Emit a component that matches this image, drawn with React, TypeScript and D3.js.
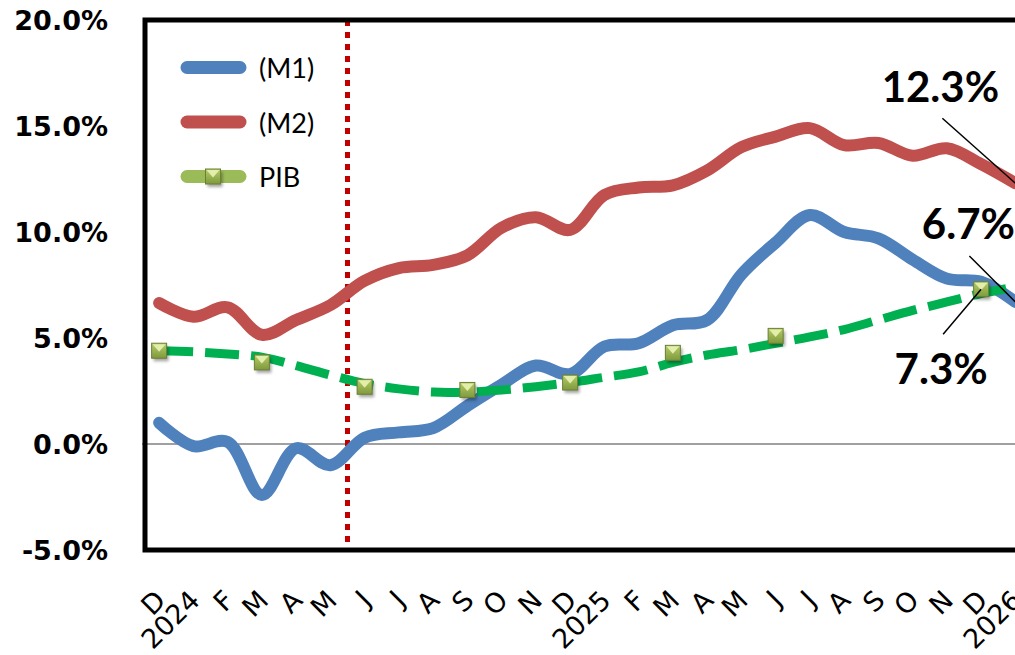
import React, { useEffect, useRef } from 'react'
import * as d3 from 'd3'

// month labels, Dec-2023 .. Jan-2026 (January shows the year)
const categories = ['D', '2024', 'F', 'M', 'A', 'M', 'J', 'J', 'A', 'S', 'O', 'N',
  'D', '2025', 'F', 'M', 'A', 'M', 'J', 'J', 'A', 'S', 'O', 'N', 'D', '2026']

// annual growth, %
const m1 = [1.0, -0.1, 0.1, -2.4, -0.2, -1.0, 0.3, 0.55, 0.75, 1.8, 2.8, 3.7,
  3.3, 4.6, 4.75, 5.6, 5.85, 8.0, 9.5, 10.8, 10.0, 9.7, 8.7, 7.8, 7.65, 6.7]
const m2 = [6.65, 6.0, 6.45, 5.15, 5.85, 6.55, 7.7, 8.3, 8.45, 8.9, 10.2, 10.7,
  10.1, 11.75, 12.1, 12.2, 12.9, 14.0, 14.5, 14.9, 14.1, 14.2, 13.6, 13.95, 13.2, 12.3]
// quarterly GDP (only quarter months have a value)
const pib: (number | null)[] = [4.4, null, null, 3.85, null, null, 2.7, null, null, 2.55, null, null,
  2.9, null, null, 4.3, null, null, 5.1, null, null, null, null, null, 7.3, null]
// smoothed GDP trend (dashed)
const pibTrend = [4.4, 4.35, 4.25, 4.1, 3.7, 3.25, 2.85, 2.6, 2.45, 2.45, 2.55, 2.7,
  2.9, 3.15, 3.4, 3.85, 4.2, 4.45, 4.75, 5.05, 5.4, 5.85, 6.3, 6.7, 7.1, 7.4]

const yTicks = [-5, 0, 5, 10, 15, 20]
const eventAfter = 5 // vertical marker between May and June 2024

const W = 1015
const H = 655

export default function App() {
  const ref = useRef<SVGSVGElement>(null)

  useEffect(() => {
    const svg = d3.select(ref.current!)
    svg.selectAll('*').remove()

    const left = 142
    const band = 34.25
    const top = 20
    const bottom = 550

    const x = d3.scaleBand<number>()
      .domain(d3.range(categories.length))
      .range([left, left + band * categories.length])
    const cx = (i: number) => x(i)! + x.bandwidth() / 2
    const y = d3.scaleLinear().domain([-5, 20]).range([bottom, top])

    const defs = svg.append('defs')
    const grad = defs.append('linearGradient').attr('id', 'mk').attr('x1', 0).attr('y1', 0).attr('x2', 0).attr('y2', 1)
    grad.append('stop').attr('offset', '0%').attr('stop-color', '#b5cc6a')
    grad.append('stop').attr('offset', '100%').attr('stop-color', '#7f9a3c')
    const blur = defs.append('filter').attr('id', 'sh').attr('x', '-50%').attr('y', '-50%').attr('width', '200%').attr('height', '200%')
    blur.append('feGaussianBlur').attr('stdDeviation', 1.5)

    const g = svg.append('g')

    // zero line
    g.append('line')
      .attr('x1', left).attr('x2', W)
      .attr('y1', y(0)).attr('y2', y(0))
      .attr('stroke', '#a0a0a0').attr('stroke-width', 2)

    // y labels
    g.selectAll('text.yt')
      .data(yTicks)
      .enter()
      .append('text')
      .attr('class', 'yt')
      .attr('x', 108)
      .attr('y', d => y(d))
      .attr('dy', '0.37em')
      .attr('text-anchor', 'end')
      .style('font', 'bold 27px "DejaVu Sans"')
      .text(d => d.toFixed(1) + '%')

    // x labels, rotated
    g.selectAll('text.xt')
      .data(categories)
      .enter()
      .append('text')
      .attr('class', 'xt')
      .attr('transform', (_d, i) => `translate(${cx(i) + 8},${602}) rotate(-45)`)
      .attr('text-anchor', 'end')
      .style('font', '27px "DejaVu Sans"')
      .text(d => d)

    // event marker
    const ex = (cx(eventAfter) + cx(eventAfter + 1)) / 2
    g.append('line')
      .attr('x1', ex).attr('x2', ex)
      .attr('y1', top).attr('y2', bottom)
      .attr('stroke', '#c00000').attr('stroke-width', 5)
      .attr('stroke-dasharray', '6 6')

    const line = d3.line<number>()
      .x((_d, i) => cx(i))
      .y(d => y(d))
      .curve(d3.curveCatmullRom.alpha(0.5))

    g.append('path')
      .attr('d', line(m2)!)
      .attr('fill', 'none').attr('stroke', '#c0504d').attr('stroke-width', 12)
      .attr('stroke-linecap', 'round').attr('stroke-linejoin', 'round')

    g.append('path')
      .attr('d', line(m1)!)
      .attr('fill', 'none').attr('stroke', '#4f81bd').attr('stroke-width', 12)
      .attr('stroke-linecap', 'round').attr('stroke-linejoin', 'round')

    g.append('path')
      .attr('d', line(pibTrend)!)
      .attr('fill', 'none').attr('stroke', '#00b050').attr('stroke-width', 9)
      .attr('stroke-dasharray', '34 12')

    const drawMarker = (sel: d3.Selection<SVGGElement, unknown, null, undefined>, px: number, py: number) => {
      const s = 15
      sel.append('rect')
        .attr('x', px - s / 2 + 2).attr('y', py - s / 2 + 3)
        .attr('width', s).attr('height', s)
        .attr('fill', 'rgba(0,0,0,0.35)').attr('filter', 'url(#sh)')
      sel.append('rect')
        .attr('x', px - s / 2).attr('y', py - s / 2)
        .attr('width', s).attr('height', s)
        .attr('fill', 'url(#mk)').attr('stroke', '#6b7f35').attr('stroke-width', 1)
      sel.append('path')
        .attr('d', `M${px - s / 2 + 1},${py - s / 2 + 1}L${px + s / 2 - 1},${py - s / 2 + 1}L${px},${py + 1}Z`)
        .attr('fill', '#e3eeaa')
    }

    const mk = g.append('g')
    pib.forEach((v, i) => {
      if (v != null) drawMarker(mk as any, cx(i), y(v))
    })

    // data labels with leaders
    const last = categories.length - 1
    const labels = [
      { px: cx(last), py: y(m2[last]), text: m2[last].toFixed(1) + '%', tx: -75, ty: -81, lx: -73, ly: -65 },
      { px: cx(last), py: y(m1[last]), text: m1[last].toFixed(1) + '%', tx: -47, ty: -63, lx: -46, ly: -46 },
      { px: cx(24), py: y(pib[24]!), text: pib[24]!.toFixed(1) + '%', tx: -40, ty: 95, lx: -38, ly: 45 },
    ]
    labels.forEach(l => {
      g.append('line')
        .attr('x1', l.px + l.lx).attr('y1', l.py + l.ly)
        .attr('x2', l.px).attr('y2', l.py)
        .attr('stroke', '#000').attr('stroke-width', 1.5)
      g.append('text')
        .attr('x', l.px + l.tx).attr('y', l.py + l.ty)
        .attr('text-anchor', 'middle')
        .style('font', 'bold 42px Lato')
        .text(l.text)
    })

    // plot frame
    g.append('rect')
      .attr('x', 145).attr('y', top)
      .attr('width', 950).attr('height', bottom - top)
      .attr('fill', 'none').attr('stroke', '#000').attr('stroke-width', 5)

    // legend
    const legend = [
      { name: '(M1)', color: '#4f81bd', marker: false },
      { name: '(M2)', color: '#c0504d', marker: false },
      { name: 'PIB', color: '#9bbb59', marker: true },
    ]
    const lg = g.append('g')
    legend.forEach((d, i) => {
      const ly = 67.5 + i * 54.5
      lg.append('line')
        .attr('x1', 187).attr('x2', 240)
        .attr('y1', ly).attr('y2', ly)
        .attr('stroke', d.color).attr('stroke-width', 13)
        .attr('stroke-linecap', 'round')
      if (d.marker) drawMarker(lg as any, 213, ly)
      lg.append('text')
        .attr('x', 259).attr('y', ly + 10.5)
        .style('font', '27px Lato')
        .text(d.name)
    })
  }, [])

  return (
    <svg ref={ref} width={W} height={H} style={{ position: 'absolute', left: 0, top: 0, background: '#fff' }} />
  )
}
